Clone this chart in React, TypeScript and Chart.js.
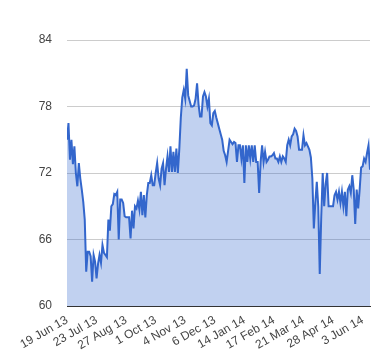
import React, { useEffect, useRef } from "react";
import { Chart, registerables } from "chart.js";

Chart.register(...registerables);

// Tick labels, one every 20 samples
const tickLabels = [
  "19 Jun 13", "23 Jul 13", "27 Aug 13", "1 Oct 13", "4 Nov 13", "6 Dec 13",
  "14 Jan 14", "17 Feb 14", "21 Mar 14", "28 Apr 14", "3 Jun 14",
];
const samplesPerTick = 20;

// Price series (sampled along the time axis)
const prices = [
  75.0, 76.5, 73.2, 75.0, 72.8, 74.4, 72.0, 70.8, 72.9, 71.5, 70.5, 69.4, 67.8, 63.1, 64.9, 64.9, 64.5, 62.2, 64.6, 64.0,
  62.5, 63.8, 64.6, 63.9, 65.5, 64.8, 64.6, 64.4, 67.8, 66.8, 69.0, 69.2, 70.1, 70.0, 70.3, 66.0, 69.6, 69.6, 69.3, 68.1,
  68.0, 68.0, 68.0, 66.1, 68.6, 67.0, 69.0, 68.8, 69.5, 68.7, 70.3, 68.2, 70.0, 68.0, 70.0, 71.1, 71.1, 71.8, 70.9, 70.9,
  72.0, 72.9, 71.5, 70.9, 72.4, 72.9, 70.9, 72.4, 73.5, 72.1, 74.4, 72.1, 73.9, 72.1, 74.2, 72.0, 74.2, 77.0, 78.8, 79.5,
  78.7, 81.4, 79.0, 78.5, 78.0, 78.0, 78.1, 78.7, 80.1, 78.2, 77.1, 77.1, 78.9, 79.3, 78.9, 78.0, 78.7, 76.5, 76.3, 77.4,
  77.6, 77.0, 76.5, 76.0, 75.5, 75.0, 74.0, 73.6, 73.0, 74.0, 75.0, 74.8, 74.6, 74.8, 74.7, 73.0, 74.5, 74.5, 73.3, 74.5,
  71.1, 74.5, 73.0, 74.5, 73.3, 74.5, 73.0, 74.5, 73.0, 73.0, 70.2, 73.0, 74.5, 73.0, 73.9, 73.0, 73.2, 73.5, 73.5, 73.6,
  73.8, 73.3, 73.3, 73.0, 73.5, 73.0, 73.5, 73.3, 73.0, 74.5, 75.0, 74.5, 75.3, 75.5, 76.0, 75.8, 75.3, 74.1, 74.1, 74.1,
  75.4, 74.5, 74.7, 74.4, 74.1, 73.4, 71.5, 67.0, 69.3, 71.2, 69.0, 62.9, 68.0, 72.0, 69.0, 71.0, 72.0, 69.0, 69.0, 69.0,
  69.0, 70.0, 70.3, 69.6, 70.3, 69.3, 70.3, 69.0, 70.3, 68.1, 70.5, 70.8, 70.2, 71.8, 70.5, 67.4, 70.5, 68.8, 70.5, 72.5,
  72.6, 73.3, 73.0, 73.8, 74.5, 72.3,
];

const yMin = 60;
const yMax = 84;
const yStep = 6;

export default function App() {
  const ref = useRef<HTMLCanvasElement | null>(null);

  useEffect(() => {
    document.body.style.margin = "0";
    const canvas = ref.current;
    if (!canvas) return;
    const points = prices.map((v, i) => ({ x: i, y: v }));
    const chart = new Chart(canvas, {
      type: "line",
      data: {
        datasets: [
          {
            data: points,
            borderColor: "#3366cc",
            backgroundColor: "rgba(51,102,204,0.3)",
            borderWidth: 2,
            pointRadius: 0,
            fill: "origin",
            tension: 0,
          },
        ],
      },
      options: {
        responsive: false,
        animation: false,
        layout: { padding: { top: 40, right: 10, bottom: 0, left: 0 } },
        plugins: { legend: { display: false }, tooltip: { enabled: false } },
        scales: {
          x: {
            type: "linear",
            min: 0,
            max: prices.length - 1,
            grid: { display: false, drawTicks: false },
            border: { display: true, color: "#333333", width: 1 },
            afterFit: (s: any) => {
              s.height = 54;
            },
            afterBuildTicks: (s: any) => {
              s.ticks = tickLabels.map((_, k) => ({ value: k * samplesPerTick }));
            },
            ticks: {
              autoSkip: false,
              minRotation: 30,
              maxRotation: 30,
              padding: 7,
              color: "#444444",
              font: { family: "'Liberation Sans', Arial, sans-serif", size: 12 },
              callback: (v: any) => tickLabels[Math.round(Number(v) / samplesPerTick)] ?? "",
            },
          },
          y: {
            min: yMin,
            max: yMax,
            grid: { color: "#cccccc", drawTicks: false, lineWidth: 1 },
            border: { display: false },
            afterFit: (s: any) => {
              s.width = 67;
            },
            ticks: {
              stepSize: yStep,
              padding: 15,
              color: "#444444",
              font: { family: "'Liberation Sans', Arial, sans-serif", size: 12 },
            },
          },
        },
      },
    });
    return () => chart.destroy();
  }, []);

  return (
    <div style={{ width: 380, height: 360 }}>
      <canvas ref={ref} width={380} height={360} style={{ display: "block" }} />
    </div>
  );
}
